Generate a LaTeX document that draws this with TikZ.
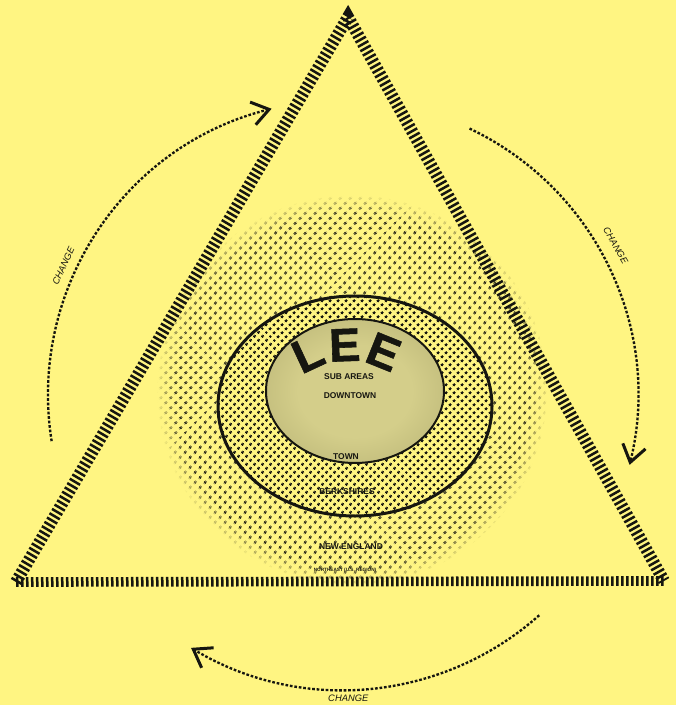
\documentclass[tikz,border=0pt]{standalone}
\usepackage{fontspec}
\setsansfont{Liberation Sans}
\newfontfamily\leefont[FakeBold=1.2]{Liberation Sans Bold}
\usetikzlibrary{arrows.meta, patterns.meta, fadings, calc}

\definecolor{paper}{RGB}{255,245,130}
\definecolor{ink}{RGB}{22,22,16}
\definecolor{tonedark}{RGB}{160,156,98}
\definecolor{tonelight}{RGB}{212,206,138}

\pgfdeclareradialshading{leetone}{\pgfpoint{0bp}{0bp}}{%
  color(0bp)=(tonelight); color(16bp)=(tonelight);
  color(50bp)=(tonedark); color(70bp)=(tonedark)}

\tikzdeclarepattern{
  name=halodots, type=uncolored,
  bounding box={(0pt,0pt) and (6.6pt,6.6pt)},
  tile size={(6.6pt,6.6pt)},
  tile transformation={rotate=45},
  code={\pgfpathcircle{\pgfpoint{3.3pt}{3.3pt}}{1.38pt}\pgfusepath{fill}}
}
\tikzdeclarepattern{
  name=ringdots, type=uncolored,
  bounding box={(0pt,0pt) and (4.6pt,4.6pt)},
  tile size={(4.6pt,4.6pt)},
  tile transformation={rotate=45},
  code={\pgfpathcircle{\pgfpoint{2.3pt}{2.3pt}}{1.3pt}\pgfusepath{fill}}
}

\begin{document}
\begin{tikzpicture}[
  x=0.3mm, y=-0.3mm,
  rail/.style      = {ink, line width=3.6mm, dash pattern=on 0.75mm off 0.75mm},
  changearc/.style = {ink, line width=0.7mm, dash pattern=on 0.8mm off 0.55mm,
                      -{Straight Barb[length=5mm, width=7mm, line width=0.9mm]}},
  changelbl/.style = {font=\sffamily\itshape\fontsize{8}{8}\selectfont, text=ink, inner sep=0pt},
  tag/.style       = {font=\sffamily\bfseries\fontsize{7.2}{7.2}\selectfont, text=ink, inner sep=0pt},
  leeletter/.style = {font=\leefont\fontsize{40}{40}\selectfont, text=ink, inner sep=0pt},
]

%── Paper ─────────────────────────────────────────────────────────────────────
\path[use as bounding box, fill=paper] (0,0) rectangle (676,705);

%── Centres ───────────────────────────────────────────────────────────────────
\coordinate (halo) at (352,390);   % New England halftone
\coordinate (berk) at (355,406);   % Berkshires ring
\coordinate (lee)  at (355,391);   % town disc
\coordinate (hub)  at (343,395);   % change arcs
\coordinate (arch) at (348,440);   % LEE lettering arc

%── Halftone regions ──────────────────────────────────────────────────────────
\fill[pattern=halodots, pattern color=ink,
      path fading=circle with fuzzy edge 10 percent] (halo) circle[radius=195];
\fill[paper]                               (berk) ellipse[x radius=137, y radius=110];
\fill[pattern=ringdots, pattern color=ink] (berk) ellipse[x radius=137, y radius=110];
\draw[ink, line width=0.9mm]               (berk) ellipse[x radius=137, y radius=110];
\shade[shading=leetone]                    (lee)  ellipse[x radius=89, y radius=72];
\draw[ink, line width=0.6mm]               (lee)  ellipse[x radius=89, y radius=72];

%── Lettering ─────────────────────────────────────────────────────────────────
\foreach \ch/\ang [count=\i] in {L/115, E/92, E/68}
  \node[leeletter, rotate=\ang-90] (lee\i) at ($(arch)+(-\ang:95)$) {\ch};

\node[tag] (subareas)   at (349,377) {SUB AREAS};
\node[tag] (downtown)   at (350,396) {DOWNTOWN};
\node[tag] (town)       at (346,457) {TOWN};
\node[tag] (berkshires) at (347,492) {BERKSHIRES};
\node[tag] (newengland) at (351,547) {NEW ENGLAND};
\node[tag, font=\sffamily\bfseries\fontsize{4}{4}\selectfont]
            (northeast) at (345,570) {NORTHEAST (U.S. REGION)};

%── Triangle ──────────────────────────────────────────────────────────────────
\coordinate (apex) at (348,17);
\coordinate (bl)   at (16,582);
\coordinate (br)   at (664,581);
\draw[rail, line join=miter] (bl) -- (apex) -- (br);
\draw[rail, line width=2.9mm] (bl) -- (br);

%── Change arcs ───────────────────────────────────────────────────────────────
\draw[changearc] ($(hub)+(-189:295)$) arc[start angle=-189, end angle=-104, radius=295];
\draw[changearc] ($(hub)+(-64.6:295)$) arc[start angle=-64.6, end angle=13.7, radius=295];
\draw[changearc] ($(hub)+(48.3:295)$) arc[start angle=48.3, end angle=121, radius=295];

\node[changelbl, rotate=65]  (chleft)   at ($(hub)+(-155.2:308)$) {CHANGE};
\node[changelbl, rotate=-60] (chright)  at ($(hub)+(-28.7:311)$)  {CHANGE};
\node[changelbl]             (chbottom) at ($(hub)+(89:303)$)     {CHANGE};

\end{tikzpicture}
\end{document}
